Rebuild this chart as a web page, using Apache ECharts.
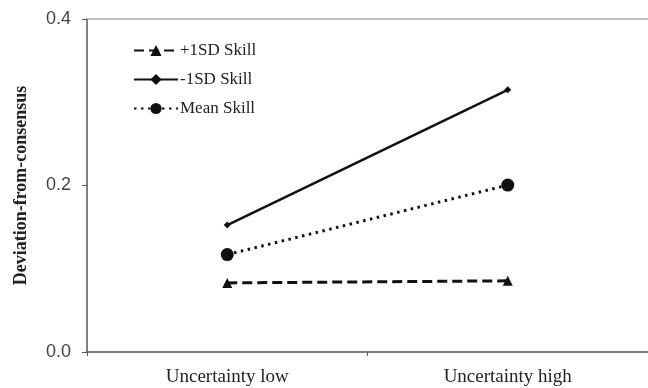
<!DOCTYPE html>
<html><head><meta charset="utf-8">
<script src="https://cdn.jsdelivr.net/npm/echarts@6/dist/echarts.min.js"></script>
<style>html,body{margin:0;padding:0;background:#fff}#c{width:648px;height:388px}</style>
</head><body><div id="c"></div>
<script>
var categories = ['Uncertainty low', 'Uncertainty high'];
var plus1SD = [0.083, 0.0855];
var minus1SD = [0.1525, 0.315];
var meanSkill = [0.117, 0.2005];
var seriesNames = ['+1SD Skill', '-1SD Skill', 'Mean Skill'];
var yTicks = [0, 0.2, 0.4];

var chart = echarts.init(document.getElementById('c'), null, {renderer: 'canvas'});
var serif = '"Liberation Serif", "Times New Roman", serif';
chart.setOption({
  animation: false,
  backgroundColor: '#fff',
  grid: {left: 87, right: 0, top: 19, bottom: 36, containLabel: false, outerBoundsMode: 'none'},
  legend: {
    orient: 'vertical', left: 128, top: 37, itemWidth: 44, itemHeight: 14, itemGap: 12,
    data: seriesNames,
    textStyle: {fontFamily: serif, fontSize: 17, color: '#222', padding: [0, 0, 0, -3]}
  },
  xAxis: [{
    type: 'category', data: categories, boundaryGap: true, position: 'bottom',
    axisLine: {lineStyle: {color: '#555', width: 1.5}},
    axisTick: {show: true, length: 4, lineStyle: {color: '#555'}, alignWithLabel: false},
    axisLabel: {fontFamily: serif, fontSize: 19, color: '#222', margin: 16},
    splitLine: {show: false}
  }, {
    type: 'category', data: categories, position: 'top',
    axisLine: {lineStyle: {color: '#aaa', width: 1.5}},
    axisTick: {show: false}, axisLabel: {show: false}
  }],
  yAxis: {
    type: 'value', min: 0, max: 0.4, interval: 0.2,
    name: 'Deviation-from-consensus', nameLocation: 'middle', nameGap: 57, nameRotate: 90,
    nameTextStyle: {fontFamily: serif, fontSize: 18, fontWeight: 'bold', color: '#222'},
    axisLine: {show: true, lineStyle: {color: '#555', width: 1.5}},
    axisTick: {show: true, length: 5, lineStyle: {color: '#555'}},
    axisLabel: {fontFamily: '"Liberation Sans", Arial, sans-serif', fontSize: 18, color: '#444', margin: 16,
      formatter: function (v) { return v.toFixed(1); }},
    splitLine: {show: false}
  },
  series: [
    {name: seriesNames[0], type: 'line', data: plus1SD, symbol: 'triangle', symbolSize: 10,
     lineStyle: {color: '#111', width: 3, type: [10, 5]}, itemStyle: {color: '#111'}},
    {name: seriesNames[1], type: 'line', data: minus1SD, symbol: 'diamond', symbolSize: 7,
     lineStyle: {color: '#111', width: 2.5, type: 'solid'}, itemStyle: {color: '#111'}},
    {name: seriesNames[2], type: 'line', data: meanSkill, symbol: 'circle', symbolSize: 13,
     lineStyle: {color: '#111', width: 3, type: [2.5, 4.5]}, itemStyle: {color: '#111'}}
  ]
});
</script></body></html>
